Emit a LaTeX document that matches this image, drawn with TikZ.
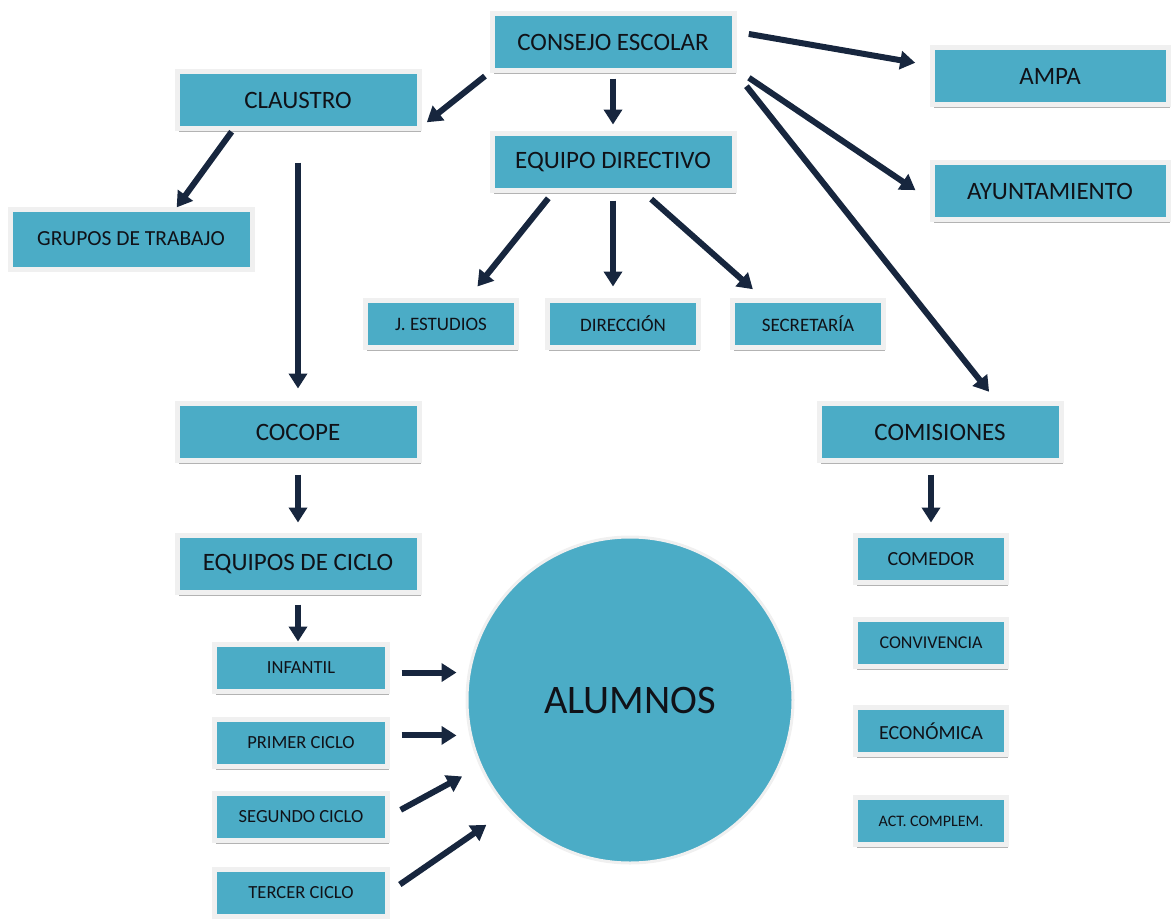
\documentclass[tikz,border=0pt]{standalone}
\usepackage{fontspec}
\setmainfont{Carlito}
\usetikzlibrary{arrows.meta, shadows}
\definecolor{celeste}{RGB}{75,172,198}
\definecolor{marino}{RGB}{23,38,62}
\definecolor{letra}{RGB}{16,18,24}

\begin{document}
\begin{tikzpicture}[x=1pt, y=-1pt,
	caja/.style={rectangle, fill=celeste, draw=black!6, line width=5pt, text=letra, inner sep=0pt, outer sep=0pt,
		drop shadow={shadow xshift=1.5pt, shadow yshift=-3pt, fill=black!50, opacity=0.6}},
	grande/.style={caja, minimum width=242pt, minimum height=57pt, font=\fontsize{25}{28}\selectfont},
	media/.style={caja, minimum width=151pt, minimum height=47pt, font=\fontsize{19}{22}\selectfont},
	chica/.style={caja, minimum width=173pt, minimum height=47pt, font=\fontsize{18.5}{22}\selectfont},
	flecha/.style={marino, line width=6pt, -{Triangle[length=15pt, width=18pt]}}]
	\useasboundingbox (0,0) rectangle (1171,919);

	\node (consejo)[grande] at (613, 42) {CONSEJO ESCOLAR};
	\node (claustro)[grande] at (298, 100) {CLAUSTRO};
	\node (grupos)[grande, minimum height=60pt, font=\fontsize{21.5}{25}\selectfont] at (131, 239) {GRUPOS DE TRABAJO};
	\node (equipo)[grande] at (613, 162) {EQUIPO DIRECTIVO};
	\node (ampa)[grande, minimum width=236pt] at (1050, 76) {AMPA};
	\node (ayunt)[grande, minimum width=236pt] at (1050, 191) {AYUNTAMIENTO};

	\node (jest)[media] at (441, 324) {J. ESTUDIOS};
	\node (dir)[media] at (623, 324) {DIRECCIÓN};
	\node (secr)[media] at (808, 324) {SECRETARÍA};

	\node (cocope)[grande] at (298, 432) {COCOPE};
	\node (comis)[grande] at (940, 432) {COMISIONES};
	\node (eqciclo)[grande] at (298, 564) {EQUIPOS DE CICLO};

	\node (comedor)[media, font=\fontsize{20}{23}\selectfont] at (931, 559) {COMEDOR};
	\node (conv)[media, font=\fontsize{18}{21}\selectfont] at (931, 643) {CONVIVENCIA};
	\node (econ)[media, font=\fontsize{20}{23}\selectfont] at (931, 731) {ECONÓMICA};
	\node (act)[media, font=\fontsize{16}{19}\selectfont] at (931, 821) {ACT. COMPLEM.};

	\node (inf)[chica] at (301, 668) {INFANTIL};
	\node (prim)[chica] at (301, 743) {PRIMER CICLO};
	\node (seg)[chica] at (301, 817) {SEGUNDO CICLO};
	\node (terc)[chica] at (301, 893) {TERCER CICLO};

	\node (alum)[circle, fill=celeste, draw=black!6, line width=3pt, minimum size=326pt, text=letra,
		font=\fontsize{40.5}{46}\selectfont] at (630, 700) {ALUMNOS};

	\draw[flecha, shorten <=9pt, shorten >=10pt] (consejo.south west) -- (claustro.south east);
	\draw[flecha, shorten <=8pt, shorten >=9pt] (consejo.south) -- (equipo.north);
	\draw[flecha, shorten <=15pt, shorten >=17pt] (consejo.5) -- (ampa.175);
	\draw[flecha, shorten <=18pt, shorten >=20pt] (consejo.-12) -- (ayunt.185);
	\draw[flecha, shorten <=20pt, shorten >=15pt] (consejo.south east) -- (comis.26);

	\draw[flecha, shorten <=4pt, shorten >=2pt] (claustro.204) -- (grupos.34);
	\draw[flecha, shorten <=34pt, shorten >=15pt] (claustro.south) -- (cocope.north);

	\draw[flecha, shorten <=10pt, shorten >=18pt] (equipo.206) -- (jest.43);
	\draw[flecha, shorten <=10pt, shorten >=14pt] (equipo.south) -- (equipo.south |- dir.north);
	\draw[flecha, shorten <=13pt, shorten >=17pt] (equipo.-45) -- (secr.151);

	\draw[flecha, shorten <=14pt, shorten >=13pt] (cocope.south) -- (eqciclo.north);
	\draw[flecha, shorten <=12pt, shorten >=3pt] (eqciclo.south) -- (eqciclo.south |- inf.north);
	\draw[flecha, shorten <=14pt, shorten >=13pt] (comedor.north |- comis.south) -- (comedor.north);

	\draw[flecha, shorten <=14pt, shorten >=9pt] (inf.-3) -- (inf.-3 -| alum.west);
	\draw[flecha, shorten <=14pt, shorten >=9pt] (prim.5) -- (prim.5 -| alum.west);
	\draw[flecha, shorten <=15pt, shorten >=20pt] (seg.east) -- (alum.204);
	\draw[flecha, shorten <=15pt, shorten >=26pt] (terc.east) -- (alum.222);
\end{tikzpicture}
\end{document}
